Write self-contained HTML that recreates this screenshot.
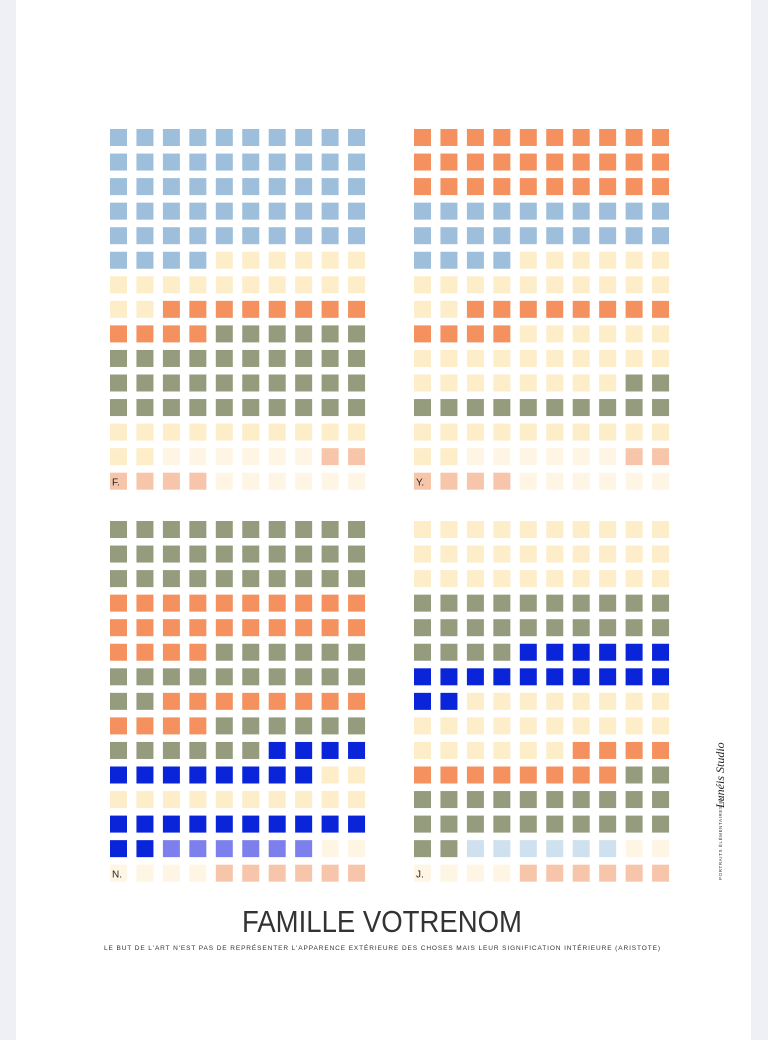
<!DOCTYPE html>
<html><head><meta charset="utf-8">
<style>
html,body{margin:0;padding:0;}
body{width:768px;height:1040px;background:#eef0f5;position:relative;overflow:hidden;font-family:"Liberation Sans",sans-serif;}
#page{position:absolute;left:16px;top:0;width:735px;height:1040px;background:#fff;}
svg{position:absolute;left:0;top:0;}
</style></head>
<body>
<div id="page"></div>
<svg id="chart" width="768" height="1040">
  <text x="382" y="932" text-anchor="middle" font-size="31" fill="#333" textLength="280" lengthAdjust="spacingAndGlyphs" style="font-family:'Liberation Sans',sans-serif">FAMILLE VOTRENOM</text>
  <text x="382" y="950" text-anchor="middle" font-size="6.5" fill="#333" textLength="556" lengthAdjust="spacing">LE BUT DE L'ART N'EST PAS DE REPRÉSENTER L'APPARENCE EXTÉRIEURE DES CHOSES MAIS LEUR SIGNIFICATION INTÉRIEURE (ARISTOTE)</text>
  <g transform="translate(722,880) rotate(-90)">
    <text x="0" y="0" font-size="4.5" fill="#333" letter-spacing="0.6">PORTRAITS ÉLÉMENTAIRES BY</text>
    <text x="72" y="2" font-size="12" font-style="italic" fill="#222" style="font-family:'Liberation Serif',serif">Lunéis Studio</text>
  </g>
</svg>
<script>
// Grid data: each string is one row of 10 cells; codes map to colour categories
const gridLabels = ["F.", "Y.", "N.", "J."];
const gridF = ["BBBBBBBBBB","BBBBBBBBBB","BBBBBBBBBB","BBBBBBBBBB","BBBBBBBBBB","BBBBCCCCCC","CCCCCCCCCC","CCOOOOOOOO","OOOOGGGGGG","GGGGGGGGGG","GGGGGGGGGG","GGGGGGGGGG","CCCCCCCCCC","CCLLLLLLPP","PPPPLLLLLL"];
const gridY = ["OOOOOOOOOO","OOOOOOOOOO","OOOOOOOOOO","BBBBBBBBBB","BBBBBBBBBB","BBBBCCCCCC","CCCCCCCCCC","CCOOOOOOOO","OOOOCCCCCC","CCCCCCCCCC","CCCCCCCCGG","GGGGGGGGGG","CCCCCCCCCC","CCLLLLLLPP","PPPPLLLLLL"];
const gridN = ["GGGGGGGGGG","GGGGGGGGGG","GGGGGGGGGG","OOOOOOOOOO","OOOOOOOOOO","OOOOGGGGGG","GGGGGGGGGG","GGOOOOOOOO","OOOOGGGGGG","GGGGGGRRRR","RRRRRRRRCC","CCCCCCCCCC","RRRRRRRRRR","RRVVVVVVLL","LLLLPPPPPP"];
const gridJ = ["CCCCCCCCCC","CCCCCCCCCC","CCCCCCCCCC","GGGGGGGGGG","GGGGGGGGGG","GGGGRRRRRR","RRRRRRRRRR","RRCCCCCCCC","CCCCCCCCCC","CCCCCCOOOO","OOOOOOOOGG","GGGGGGGGGG","GGGGGGGGGG","GGSSSSSSLL","LLLLPPPPPP"];
const colorCodes = ["B","O","G","C","L","P","R","V","S"];
const colorValues = ["#9dbfdb","#f4915e","#949c7d","#fdedc8","#fff5e4","#f7c5aa","#0a24d9","#7d80ec","#cfe0ee"];

const svgNS = "http://www.w3.org/2000/svg";
const svg = document.getElementById("chart");
const grids = [gridF, gridY, gridN, gridJ];
const origins = [[110,129],[414,129],[110,521],[414,521]];
const pitchX = 26.45, pitchY = 24.55, size = 17;
function xPos(gi, c){ return origins[gi][0] + c*pitchX; }
function yPos(gi, r){ return origins[gi][1] + r*pitchY; }
grids.forEach((g, gi) => {
  const grp = document.createElementNS(svgNS, "g");
  
  
  g.forEach((row, r) => {
    for (let c = 0; c < row.length; c++) {
      const rect = document.createElementNS(svgNS, "rect");
      rect.setAttribute("x", xPos(gi, c));
      rect.setAttribute("y", yPos(gi, r));
      rect.setAttribute("width", size);
      rect.setAttribute("height", size);
      rect.setAttribute("fill", colorValues[colorCodes.indexOf(row[c])]);
      
      
      grp.appendChild(rect);
    }
  });
  const t = document.createElementNS(svgNS, "text");
  t.setAttribute("x", xPos(gi, 0) + 2);
  t.setAttribute("y", yPos(gi, 14) + 13);
  t.setAttribute("font-size", "10");
  t.setAttribute("fill", "#222");
  
  
  t.textContent = gridLabels[gi];
  grp.appendChild(t);
  svg.appendChild(grp);
});
</script>
</body></html>
